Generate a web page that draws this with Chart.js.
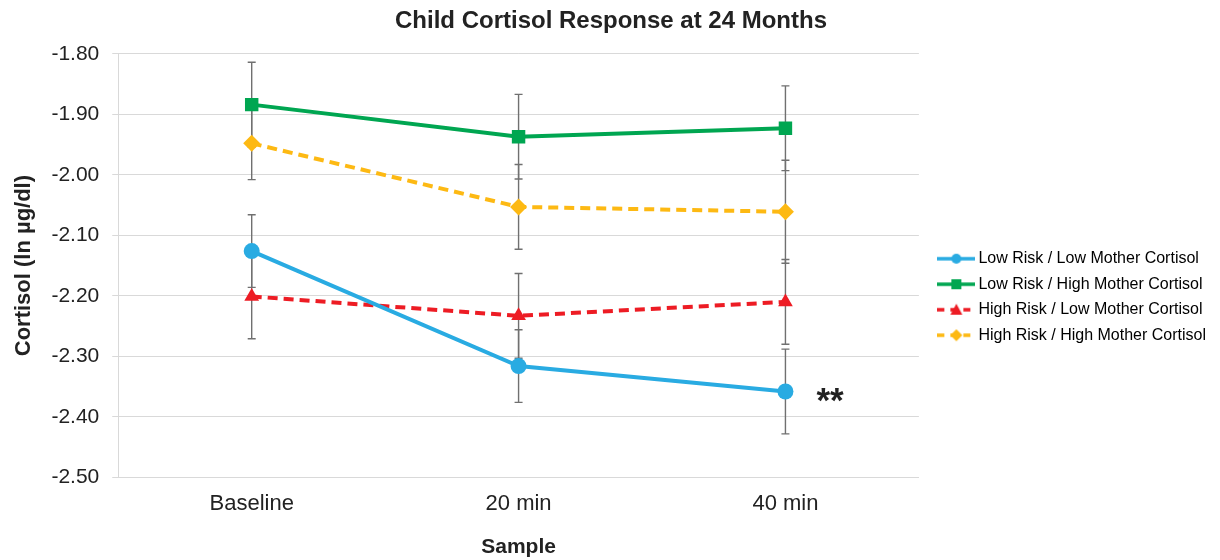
<!DOCTYPE html>
<html>
<head>
<meta charset="utf-8">
<script src="https://cdn.jsdelivr.net/npm/chart.js@4/dist/chart.umd.min.js"></script>
<style>
  html, body { margin: 0; padding: 0; background: #fff; }
  #wrap { width: 1220px; height: 560px; }
</style>
</head>
<body>
<div id="wrap"><canvas id="chart" width="1220" height="560"></canvas></div>
<script>
// samples on the x axis
var samples = ['Baseline', '20 min', '40 min'];

// mean cortisol (ln ug/dl) per group
var lowRiskLowMother = [-2.126, -2.316, -2.358];
var lowRiskHighMother = [-1.884, -1.937, -1.923];
var highRiskLowMother = [-2.201, -2.233, -2.210];
var highRiskHighMother = [-1.948, -2.053, -2.061];

// error bar half-widths
var errLowLow = [0.06, 0.06, 0.07];
var errLowHigh = [0.07, 0.07, 0.07];
var errHighLow = [0.07, 0.07, 0.07];
var errHighHigh = [0.06, 0.07, 0.085];

// y axis range
var yMin = -2.5;
var yMax = -1.8;
var yStep = 0.1;

var FONT = 'Arial, "Liberation Sans", sans-serif';

// small legend icon: line with a marker in the middle
function legendIcon(color, dashed, shape) {
  var c = document.createElement('canvas');
  c.width = 38; c.height = 16;
  var x = c.getContext('2d');
  x.strokeStyle = color;
  x.fillStyle = color;
  x.lineWidth = 3.5;
  if (dashed) x.setLineDash([7, 6]);
  x.beginPath(); x.moveTo(0, 8); x.lineTo(38, 8); x.stroke();
  x.setLineDash([]);
  x.beginPath();
  if (shape === 'circle') {
    x.arc(19, 8, 5, 0, Math.PI * 2);
  } else if (shape === 'rect') {
    x.rect(14, 3, 10, 10);
  } else if (shape === 'triangle') {
    x.moveTo(19, 2); x.lineTo(25, 13); x.lineTo(13, 13); x.closePath();
  } else {
    x.moveTo(19, 2); x.lineTo(25, 8); x.lineTo(19, 14); x.lineTo(13, 8); x.closePath();
  }
  x.fill();
  return c;
}

var blue = '#29abe2', green = '#00a651', red = '#ed1c24', yellow = '#fdb913';

var datasets = [
  { label: 'Low Risk / Low Mother Cortisol', data: lowRiskLowMother, err: errLowLow,
    borderColor: blue, backgroundColor: blue, pointStyle: 'circle', pointRadius: 8,
    icon: legendIcon(blue, false, 'circle') },
  { label: 'Low Risk / High Mother Cortisol', data: lowRiskHighMother, err: errLowHigh,
    borderColor: green, backgroundColor: green, pointStyle: 'rect', pointRadius: 9.5,
    icon: legendIcon(green, false, 'rect') },
  { label: 'High Risk / Low Mother Cortisol', data: highRiskLowMother, err: errHighLow,
    borderColor: red, backgroundColor: red, pointStyle: 'triangle', pointRadius: 8.5,
    borderDash: [10, 6], icon: legendIcon(red, true, 'triangle') },
  { label: 'High Risk / High Mother Cortisol', data: highRiskHighMother, err: errHighHigh,
    borderColor: yellow, backgroundColor: yellow, pointStyle: 'rectRot', pointRadius: 8.5,
    borderDash: [10, 6], icon: legendIcon(yellow, true, 'diamond') }
];
datasets.forEach(function (d) {
  d.borderWidth = 4;
  d.pointBorderWidth = 0;
  d.pointHoverRadius = d.pointRadius;
  d.tension = 0;
  d.fill = false;
});

// error bars drawn before the lines, using the chart's scales
var errorBars = {
  id: 'errorBars',
  afterLayout: function (chart) {
    // nudge the legend and title to where the original has them
    var lg = chart.legend;
    lg.left += 14; lg.right += 14;
    lg.top += 17; lg.bottom += 17;
    var tb = chart.titleBlock;
    tb.left += 10; tb.right += 10;
  },
  beforeDatasetsDraw: function (chart) {
    var ctx = chart.ctx;
    var ys = chart.scales.y;
    ctx.save();
    ctx.strokeStyle = '#707070';
    ctx.lineWidth = 1.4;
    chart.data.datasets.forEach(function (ds, i) {
      var meta = chart.getDatasetMeta(i);
      meta.data.forEach(function (pt, j) {
        var top = ys.getPixelForValue(ds.data[j] + ds.err[j]);
        var bot = ys.getPixelForValue(ds.data[j] - ds.err[j]);
        ctx.beginPath();
        ctx.moveTo(pt.x, top); ctx.lineTo(pt.x, bot);
        ctx.moveTo(pt.x - 4, top); ctx.lineTo(pt.x + 4, top);
        ctx.moveTo(pt.x - 4, bot); ctx.lineTo(pt.x + 4, bot);
        ctx.stroke();
      });
    });
    ctx.restore();
  },
  afterDatasetsDraw: function (chart) {
    // significance mark next to the last blue point
    var pt = chart.getDatasetMeta(0).data[2];
    var ctx = chart.ctx;
    ctx.save();
    ctx.fillStyle = '#222';
    ctx.font = 'bold 35px ' + FONT;
    ctx.textBaseline = 'alphabetic';
    ctx.fillText('**', pt.x + 31, pt.y + 21);
    ctx.restore();
  }
};

var ctx = document.getElementById('chart').getContext('2d');
var chart = new Chart(ctx, {
  type: 'line',
  data: { labels: samples, datasets: datasets },
  plugins: [errorBars],
  options: {
    responsive: false,
    animation: false,
    layout: { padding: { left: 0, right: 18, top: 0, bottom: 0 } },
    plugins: {
      title: {
        display: true,
        text: 'Child Cortisol Response at 24 Months',
        color: '#222',
        font: { family: FONT, size: 24, weight: 'bold' },
        padding: { top: 7, bottom: 18 }
      },
      legend: {
        position: 'right',
        labels: {
          color: '#222',
          font: { family: FONT, size: 16 },
          usePointStyle: true,
          pointStyleWidth: 28,
          padding: 9.5,
          generateLabels: function (ch) {
            return ch.data.datasets.map(function (d, i) {
              return { text: d.label, pointStyle: d.icon, fillStyle: d.borderColor,
                       strokeStyle: d.borderColor, lineWidth: 0, datasetIndex: i, hidden: false };
            });
          }
        }
      },
      tooltip: { enabled: false }
    },
    scales: {
      x: {
        offset: true,
        grid: { display: false, drawTicks: false },
        border: { color: '#d9d9d9' },
        ticks: { color: '#222', font: { family: FONT, size: 22 }, padding: 13 },
        title: { display: true, text: 'Sample', color: '#222',
                 font: { family: FONT, size: 21, weight: 'bold' }, padding: { top: 5, bottom: 0 } }
      },
      y: {
        min: yMin,
        max: yMax,
        ticks: {
          stepSize: yStep,
          color: '#222',
          font: { family: FONT, size: 21 },
          padding: 13,
          callback: function (v) { return v.toFixed(2); }
        },
        grid: { color: '#d9d9d9', tickLength: 6 },
        border: { color: '#d9d9d9' },
        title: { display: true, text: 'Cortisol (ln µg/dl)', color: '#222',
                 font: { family: FONT, size: 22, weight: 'bold' }, padding: { top: 11, bottom: 1 } }
      }
    }
  }
});
</script>
</body>
</html>
